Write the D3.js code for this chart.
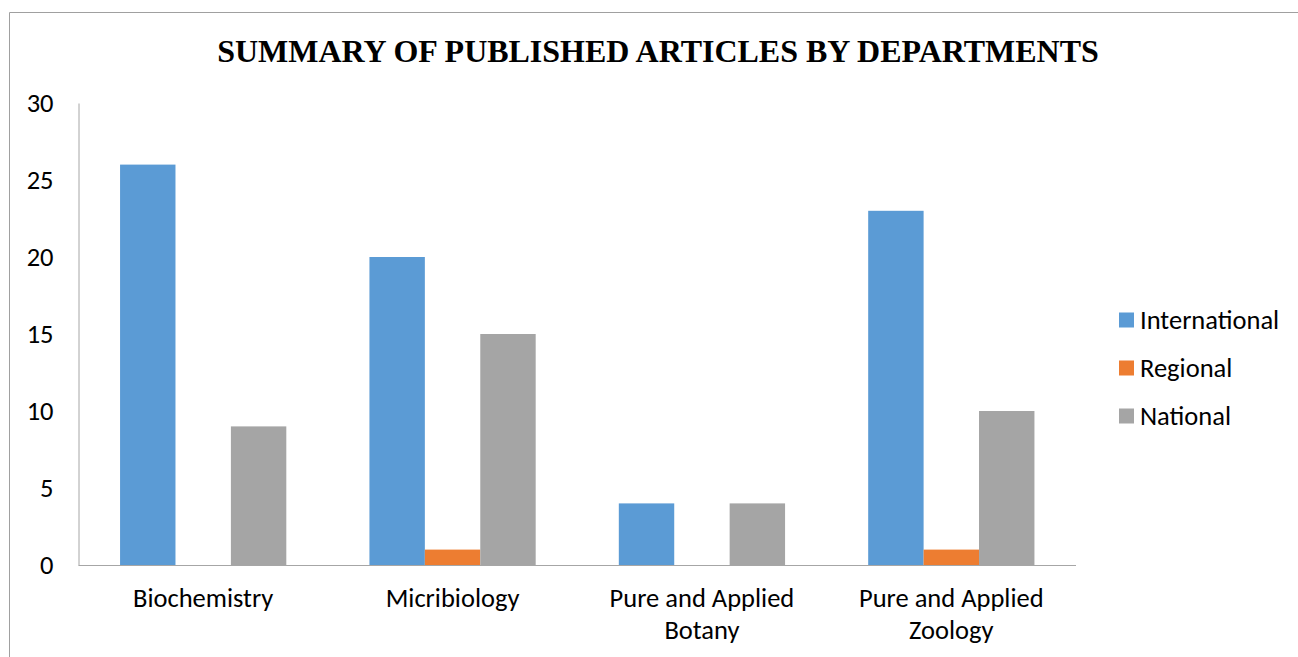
<!DOCTYPE html>
<html><head><meta charset="utf-8">
<script src="https://cdn.jsdelivr.net/npm/d3@7"></script>
<style>body{margin:0;background:#fff}svg{display:block}</style>
</head><body>
<script>
const categories = [["Biochemistry"], ["Micribiology"], ["Pure and Applied", "Botany"], ["Pure and Applied", "Zoology"]];
const seriesNames = ["International", "Regional", "National"];
const international = [26, 20, 4, 23];
const regional = [0, 1, 0, 1];
const national = [9, 15, 4, 10];
const yTicks = [0, 5, 10, 15, 20, 25, 30];
const colors = ["#5B9BD5", "#ED7D31", "#A5A5A5"];
const title = "SUMMARY OF PUBLISHED ARTICLES BY DEPARTMENTS";

(function () {
const W = 1298, H = 657;
const svg = d3.select("body").append("svg").attr("width", W).attr("height", H);
const sans = "Carlito, Calibri, Lato, 'Open Sans', sans-serif";
const fs = 26.5;

svg.append("path").attr("d", `M9.5,${H} V12.5 H${W}`).attr("fill", "none").attr("stroke", "#a0a0a0").attr("stroke-width", 1);

const t = svg.append("text").attr("x", 658).attr("y", 62).attr("text-anchor", "middle")
  .attr("font-family", "'Liberation Serif', 'Times New Roman', serif").attr("font-weight", "bold")
  .attr("font-size", 30).attr("fill", "#000").text(title);
const tw = t.node().getComputedTextLength();
t.attr("font-size", 30 * 882 / tw);

const mLeft = 78.5, mRight = 1076, mTop = 103, mBottom = 565;
const y = d3.scaleLinear().domain([0, 30]).range([mBottom, mTop]);
const idx = d3.range(categories.length);
const x0 = d3.scaleBand().domain(idx).range([mLeft, mRight]).padding(0);
const bw = x0.bandwidth();
const barW = bw / (3 + 1.5);
const x1 = d3.scaleBand().domain(seriesNames).range([barW * 0.75, bw - barW * 0.75]).padding(0);

const values = [international, regional, national];
const g = svg.append("g");
idx.forEach(i => {
  seriesNames.forEach((s, k) => {
    const v = values[k][i];
    if (v > 0) {
      g.append("rect").attr("x", x0(i) + x1(s)).attr("y", y(v))
        .attr("width", x1.bandwidth()).attr("height", y(0) - y(v)).attr("fill", colors[k]);
    }
  });
});

const yAxis = d3.axisLeft(y).tickValues(yTicks).tickSize(0).tickPadding(25);
const ya = svg.append("g").attr("transform", `translate(${mLeft},0)`).call(yAxis);
ya.select(".domain").attr("stroke", "#a6a6a6");
ya.selectAll("text").attr("font-family", sans).attr("font-size", fs).attr("fill", "#000");

svg.append("line").attr("x1", mLeft).attr("x2", mRight).attr("y1", mBottom + 0.5).attr("y2", mBottom + 0.5)
  .attr("stroke", "#a6a6a6");

idx.forEach(i => {
  const cx = x0(i) + bw / 2;
  const tx = svg.append("text").attr("text-anchor", "middle").attr("font-family", sans)
    .attr("font-size", fs).attr("fill", "#000");
  categories[i].forEach((line, j) => {
    tx.append("tspan").attr("x", cx).attr("y", 607 + j * 32).text(line);
  });
});

const leg = svg.append("g");
seriesNames.forEach((s, k) => {
  const cy = 320 + k * 48;
  leg.append("rect").attr("x", 1119).attr("y", cy - 7.5).attr("width", 15).attr("height", 15).attr("fill", colors[k]);
  leg.append("text").attr("x", 1140).attr("y", cy).attr("dy", "0.35em").attr("font-family", sans)
    .attr("font-size", fs).attr("fill", "#000").text(s);
});
})();
</script>
</body></html>
